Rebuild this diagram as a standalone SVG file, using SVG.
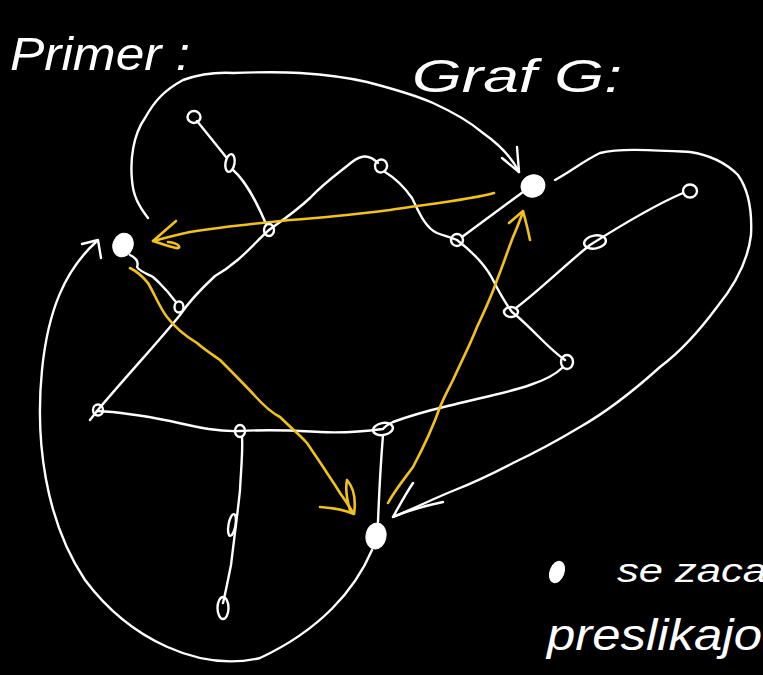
<svg xmlns="http://www.w3.org/2000/svg" width="763" height="675" viewBox="0 0 763 675">
<style>
.w{fill:none;stroke:#fff;stroke-width:2.4;stroke-linecap:round;stroke-linejoin:round}
.y{fill:none;stroke:#f1c21c;stroke-width:2.6;stroke-linecap:round;stroke-linejoin:round}
.n{fill:none;stroke:#fff;stroke-width:2.4}
.f{fill:#fff;stroke:#fff;stroke-width:1}
.t{fill:#fff;font-family:"Liberation Sans",Arial,sans-serif;font-style:italic}
</style>
<rect width="763" height="675" fill="#000"/>
<g id="connectors">
<path class="w" d="M197,121 L226,157"/>
<path class="w" d="M233,170 C245,180 258,205 266,224"/>
<path class="w" d="M130,255 C136,258 139,262 137,267 C140,272 148,274 153,277 C160,283 164,288 167,291 C171,296 174,300 176,302"/>
<path class="w" d="M378,163 C368,153 360,156 352,162 C340,172 325,182 310,198 C295,212 280,222 269,230 C255,242 240,262 215,276 C200,290 190,300 180,315 C160,340 130,372 97,411 L90,420"/>
<path class="w" d="M385,172 C395,178 405,188 412,198 C418,210 425,228 437,233 C445,236 450,237 457,240 C470,250 485,265 492,278 C498,290 503,300 512,312 C520,318 530,328 540,338 C550,348 558,355 565,360"/>
<path class="w" d="M562,368 C555,375 545,380 530,385 C510,392 480,398 460,403 C440,408 420,412 393,422 C385,426 383,429 383,429 C360,432 340,433 320,432 C300,431 277,429 240,431 C220,432 200,428 170,421 C140,415 120,412 97,411"/>
<path class="w" d="M242,437 C243,450 241,470 240,490 C238,510 234,540 231,565 C228,580 225,595 223,603"/>
<path class="w" d="M383,435 C381,460 379,495 378,522"/>
<path class="w" d="M462,237 L523,192"/>
<path class="w" d="M516,308 C540,290 565,265 590,245 C620,226 655,205 683,193"/>
<path class="w" d="M555,180 C570,172 585,160 600,153 C620,148 650,150 690,152 C710,155 725,162 738,175 C750,192 752,215 751,235 C748,260 735,285 717,307 C700,330 680,352 660,367 C640,385 610,410 580,427 C555,442 530,455 513,463 C490,475 470,484 455,490 C435,498 415,508 393,517"/>
<path class="w" d="M413,483 C405,495 398,508 393,517 C410,510 428,505 443,502"/>
<path class="w" d="M372,550 C355,590 320,630 260,658 C200,672 130,640 85,580 C45,520 35,440 42,370 C48,310 65,270 97,241"/>
<path class="w" d="M82,244 L98,240 L101,258"/>
<path class="w" d="M148,218 C138,205 133,195 132,180 C130,160 133,135 145,118 C155,100 165,90 183,80 C200,74 215,72 233,73 C260,72 285,72 300,73 C330,75 350,78 367,82 C390,88 415,95 433,103 C455,113 470,122 483,133 C500,145 512,158 519,172"/>
<path class="w" d="M502,158 L519,172 L517,147"/>
<path class="y" d="M494,193 C470,200 420,205 390,210 C350,215 320,218 290,220 C250,224 215,228 190,232 C175,235 165,238 153,241"/>
<path class="y" d="M176,221 L153,241 C162,244 170,247 176,248 C182,249 180,243 168,242"/>
<path class="y" d="M130,268 C138,272 144,278 148,283 C155,295 160,308 167,317 C177,330 187,337 197,343 C205,350 213,355 220,360 C235,375 245,385 255,396 C265,407 272,413 280,417 C290,427 300,435 307,443 C315,455 322,465 327,473 C333,482 337,488 340,493 C345,500 349,506 352,511"/>
<path class="y" d="M320,507 C335,508 345,510 354,514 C356,500 354,488 347,480 C345,490 347,500 350,510"/>
<path class="y" d="M388,503 C395,490 405,478 413,467 C422,450 432,430 440,407 C445,395 449,388 453,380 C462,360 470,345 477,327 C485,310 492,295 497,280 C503,265 508,250 513,237 C517,228 520,220 523,212"/>
<path class="y" d="M509,223 L523,211 C526,222 528,230 530,240"/>
</g>
<g id="nA"><ellipse class="n" cx="194" cy="117" rx="6.5" ry="6"/></g>
<g id="nB"><ellipse class="n" cx="230" cy="163" rx="4.5" ry="9" transform="rotate(10 230 163)"/></g>
<g id="nC"><ellipse class="n" cx="269" cy="230" rx="5" ry="6"/></g>
<g id="nD"><ellipse class="n" cx="381" cy="166" rx="6" ry="6.5" transform="rotate(20 381 166)"/></g>
<g id="nE"><ellipse class="n" cx="457" cy="240" rx="6" ry="6"/></g>
<g id="nF"><ellipse class="n" cx="511" cy="312" rx="7" ry="5"/></g>
<g id="nG"><ellipse class="n" cx="567" cy="362" rx="6" ry="7"/></g>
<g id="nH"><ellipse class="n" cx="595" cy="242" rx="11" ry="6.5" transform="rotate(-10 595 242)"/></g>
<g id="nI"><ellipse class="n" cx="690" cy="191" rx="7" ry="6.5"/></g>
<g id="nJ"><ellipse class="n" cx="179" cy="307" rx="4.5" ry="5.5"/></g>
<g id="nK"><ellipse class="n" cx="98" cy="410" rx="5" ry="5.5"/></g>
<g id="nL"><ellipse class="n" cx="240" cy="431" rx="5" ry="6"/></g>
<g id="nM"><ellipse class="n" cx="383" cy="429" rx="10" ry="6" transform="rotate(-10 383 429)"/></g>
<g id="nN"><ellipse class="n" cx="232" cy="525" rx="3.5" ry="11" transform="rotate(10 232 525)"/></g>
<g id="nO"><ellipse class="n" cx="223" cy="608" rx="5.5" ry="11"/></g>
<g id="p1"><ellipse class="f" cx="123" cy="245" rx="10" ry="12" transform="rotate(20 123 245)"/></g>
<g id="p2"><ellipse class="f" cx="533" cy="186" rx="12" ry="11" transform="rotate(-20 533 186)"/></g>
<g id="p3"><ellipse class="f" cx="376" cy="536" rx="10" ry="13" transform="rotate(10 376 536)"/></g>
<g id="legend-dot"><ellipse class="f" cx="557" cy="572" rx="7" ry="11" transform="rotate(20 557 572)"/></g>
<text class="t" x="10" y="70" font-size="46" textLength="180" lengthAdjust="spacingAndGlyphs">Primer :</text>
<text class="t" x="412" y="92" font-size="46" textLength="210" lengthAdjust="spacingAndGlyphs">Graf G:</text>
<text class="t" x="617" y="582" font-size="34" textLength="150" lengthAdjust="spacingAndGlyphs">se zaca</text>
<text class="t" x="547" y="650" font-size="44" textLength="215" lengthAdjust="spacingAndGlyphs">preslikajo</text>
</svg>
